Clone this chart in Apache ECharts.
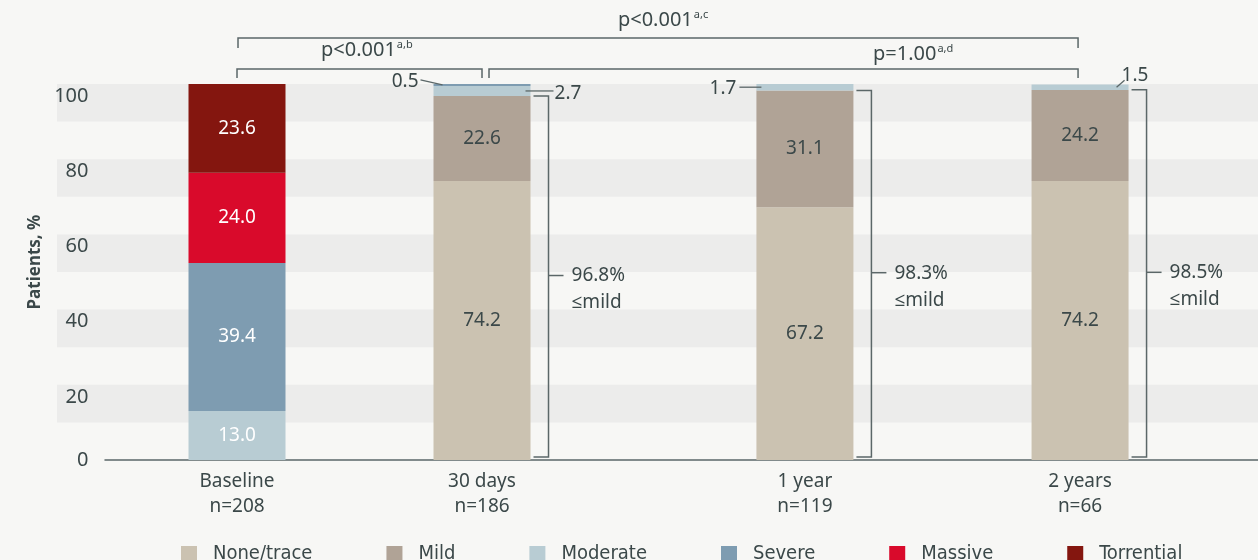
<!DOCTYPE html>
<html>
<head>
<meta charset="utf-8">
<script src="https://cdn.jsdelivr.net/npm/echarts@6/dist/echarts.min.js"></script>
<style>
  html, body { margin: 0; padding: 0; background: #f7f7f5; }
  #chart { width: 1258px; height: 560px; }
</style>
</head>
<body>
<div id="chart"></div>
<script>
// ---- data ----
const categories  = ['Baseline', '30 days', '1 year', '2 years'];
const sampleSizes = ['n=208', 'n=186', 'n=119', 'n=66'];
const grades      = ['None/trace', 'Mild', 'Moderate', 'Severe', 'Massive', 'Torrential'];
const noneTrace   = [0, 74.2, 67.2, 74.2];
const mild        = [0, 22.6, 31.1, 24.2];
const moderate    = [13.0, 2.7, 1.7, 1.5];
const severe      = [39.4, 0.5, 0, 0];
const massive     = [24.0, 0, 0, 0];
const torrential  = [23.6, 0, 0, 0];
const mildOrLess  = [null, 96.8, 98.3, 98.5];
const yTicks      = [0, 20, 40, 60, 80, 100];
const pComparisons = [
  { from: 0, to: 1, text: 'p<0.001', note: 'a,b' },
  { from: 1, to: 3, text: 'p=1.00',  note: 'a,d' },
  { from: 0, to: 3, text: 'p<0.001', note: 'a,c' }
];
// small segments labelled outside their bar: [column, grade]
const smallSegments = [[1, 3], [1, 2], [2, 2], [3, 2]];

// ---- layout & style ----
const COLUMN_SLOTS = [0, 1, 2.318, 3.441];
const X_MIN = -0.5388, X_MAX = 4.1673;
const BAR_W = 97;
const TEXT = '#3b4849';
const LINE = '#5b6768';
const FONT = "'Noto Sans', 'Open Sans', sans-serif";
const NARROW = "'Liberation Sans Narrow', 'DejaVu Sans Condensed', 'Noto Sans', sans-serif";
const gradeColors = ['#cbc2b1', '#b0a396', '#b8ccd3', '#7e9cb1', '#d90a2b', '#84160f'];
const gradeLabelColors = [TEXT, TEXT, '#ffffff', '#ffffff', '#ffffff', '#ffffff'];
const bracketLayout = [
  { rise: 15, tick: 9,  labelAt: 0.53, labelRise: 19, startShift: 0, endShift: 0 },
  { rise: 15, tick: 9,  labelAt: 0.72, labelRise: 15, startShift: 7, endShift: -2 },
  { rise: 46, tick: 10, labelAt: 0.506, labelRise: 18, startShift: 1, endShift: -2 }
];
const calloutLayout = [
  { edge: 'left',  inset: 9,   dx: -22, dy: -5, align: 'right', tx: -2, ty: 2,  va: 'middle' },
  { edge: 'right', inset: 5,   dx: 28,  dy: 0,  align: 'left',  tx: 1,  ty: 3,  va: 'middle' },
  { edge: 'left',  inset: 5,   dx: -22, dy: 0,  align: 'right', tx: -3, ty: 1,  va: 'middle' },
  { edge: 'right', inset: 12,  dx: 8,   dy: -7, align: 'left',  tx: -3, ty: 5,  va: 'bottom' }
];

const stackRows = [noneTrace, mild, moderate, severe, massive, torrential];
function segmentBounds(col, grade) {
  let lo = 0;
  for (let g = 0; g < grade; g++) lo += stackRows[g][col];
  return [lo, lo + stackRows[grade][col]];
}

const chart = echarts.init(document.getElementById('chart'));

// stacked bars: each item is [percent, column slot]
const barSeries = grades.map((name, g) => ({
  name,
  type: 'bar',
  stack: 'total',
  xAxisIndex: 1,
  yAxisIndex: 1,
  barWidth: BAR_W,
  encode: { x: 1, y: 0 },
  itemStyle: { color: gradeColors[g] },
  label: {
    show: true,
    position: 'inside',
    color: gradeLabelColors[g],
    fontFamily: FONT,
    fontSize: 19,
    formatter: p => (p.value[0] >= 5 ? p.value[0].toFixed(1) : '')
  },
  emphasis: { disabled: true },
  data: stackRows[g].map((v, i) => [v, COLUMN_SLOTS[i]])
}));

// "≤mild" brackets on the right of each follow-up bar
const mildBracketSeries = {
  type: 'custom',
  xAxisIndex: 1,
  yAxisIndex: 1,
  z: 5,
  silent: true,
  data: mildOrLess.map((v, i) => [COLUMN_SLOTS[i], v]).filter(d => d[1] != null),
  renderItem(params, api) {
    const x = api.value(0), v = api.value(1);
    const top = api.coord([x, v]);
    const base = api.coord([x, 0]);
    const x0 = top[0] + BAR_W / 2 + 3, x1 = x0 + 15;
    const yTop = top[1], yBot = base[1] - 3, yMid = (yTop + yBot) / 2 - 1;
    return {
      type: 'group',
      children: [
        { type: 'polyline', shape: { points: [[x0, yTop], [x1, yTop], [x1, yBot], [x0, yBot]] },
          style: { stroke: LINE, lineWidth: 1.5, fill: null } },
        { type: 'line', shape: { x1: x1, y1: yMid, x2: x1 + 15, y2: yMid },
          style: { stroke: LINE, lineWidth: 1.5 } },
        { type: 'text', x: x1 + 23, y: yMid - 13,
          style: { text: v.toFixed(1) + '%\n≤mild', fill: TEXT, font: '19px ' + FONT,
                   lineHeight: 27, align: 'left', verticalAlign: 'top' } }
      ]
    };
  }
};

// values of thin segments, written beside the bar with a leader line
const calloutSeries = {
  type: 'custom',
  xAxisIndex: 1,
  yAxisIndex: 1,
  z: 6,
  silent: true,
  data: smallSegments.map(([c, g]) => {
    const [lo, hi] = segmentBounds(c, g);
    return [COLUMN_SLOTS[c], lo, hi, stackRows[g][c]];
  }),
  renderItem(params, api) {
    const L = calloutLayout[params.dataIndex];
    const x = api.value(0);
    const mid = api.coord([x, (api.value(1) + api.value(2)) / 2]);
    const sx = L.edge === 'left' ? mid[0] - BAR_W / 2 + L.inset : mid[0] + BAR_W / 2 - L.inset;
    const sy = mid[1];
    const ex = sx + L.dx, ey = sy + L.dy;
    return {
      type: 'group',
      children: [
        { type: 'line', shape: { x1: sx, y1: sy, x2: ex, y2: ey },
          style: { stroke: LINE, lineWidth: 1.3 } },
        { type: 'text', x: ex + L.tx, y: ey + L.ty,
          style: { text: api.value(3).toFixed(1), fill: TEXT, font: '19px ' + FONT,
                   align: L.align, verticalAlign: L.va } }
      ]
    };
  }
};

// significance brackets above the bars
const pSeries = {
  type: 'custom',
  xAxisIndex: 1,
  yAxisIndex: 1,
  z: 6,
  silent: true,
  data: pComparisons.map(c => [COLUMN_SLOTS[c.from], COLUMN_SLOTS[c.to]]),
  renderItem(params, api) {
    const C = pComparisons[params.dataIndex];
    const L = bracketLayout[params.dataIndex];
    const a = api.coord([api.value(0), 100]);
    const b = api.coord([api.value(1), 100]);
    const xa = a[0] + L.startShift, xb = b[0] + L.endShift;
    const y = a[1] - L.rise;
    const lx = xa + (xb - xa) * L.labelAt;
    return {
      type: 'group',
      children: [
        { type: 'polyline', shape: { points: [[xa, y + L.tick], [xa, y], [xb, y], [xb, y + L.tick]] },
          style: { stroke: LINE, lineWidth: 1.5, fill: null } },
        { type: 'text', x: lx, y: y - L.labelRise,
          style: {
            text: '{p|' + C.text + '}{s|' + C.note + '}',
            align: 'center', verticalAlign: 'middle',
            rich: {
              p: { fontFamily: FONT, fontSize: 20, fill: TEXT, color: TEXT, lineHeight: 22 },
              s: { fontFamily: FONT, fontSize: 11, fill: TEXT, color: TEXT, verticalAlign: 'top', lineHeight: 22, padding: [0, 0, 8, 1] }
            }
          } }
      ]
    };
  }
};

const option = {
  backgroundColor: '#f7f7f5',
  animation: false,
  textStyle: { fontFamily: FONT },
  legend: {
    data: grades,
    left: 176,
    top: 539,
    icon: 'rect',
    itemWidth: 16,
    itemHeight: 16,
    itemGap: 74,
    selectedMode: false,
    textStyle: { fontFamily: NARROW, fontSize: 20, color: TEXT, padding: [0, 0, 0, 11] }
  },
  grid: [
    { left: 57, right: 0, top: 84, bottom: 100 },
    { left: 105, right: 0, top: 84, bottom: 100 }
  ],
  xAxis: [
    { gridIndex: 0, type: 'value', min: 0, max: 1, show: false },
    {
      gridIndex: 1, type: 'value', min: X_MIN, max: X_MAX,
      axisLine: { show: true, onZero: false, lineStyle: { color: LINE, width: 1.5 } },
      axisTick: { show: false },
      splitLine: { show: false },
      axisLabel: {
        customValues: COLUMN_SLOTS,
        margin: 9,
        color: TEXT,
        fontFamily: FONT,
        fontSize: 19,
        lineHeight: 25,
        formatter: v => {
          const i = COLUMN_SLOTS.findIndex(s => Math.abs(s - v) < 1e-6);
          return i < 0 ? '' : categories[i] + '\n' + sampleSizes[i];
        }
      }
    }
  ],
  yAxis: [
    {
      gridIndex: 0, type: 'value', min: 0, max: 100, interval: 10,
      name: 'Patients, %',
      nameLocation: 'middle',
      nameRotate: 90,
      nameGap: 10,
      nameTextStyle: { color: TEXT, fontFamily: FONT, fontSize: 17, fontWeight: 'bold', padding: [0, 0, 0, 20] },
      axisLine: { show: false },
      axisTick: { show: false },
      splitLine: { show: false },
      splitArea: { show: true, areaStyle: { color: ['rgba(0,0,0,0)', '#ececeb'] } },
      axisLabel: {
        margin: -31.5,
        color: TEXT,
        fontFamily: FONT,
        fontSize: 20,
        formatter: v => (yTicks.includes(v) ? (v === 0 ? '{z|0}' : '{n|' + v + '}') : ''),
        rich: {
          z: { fontSize: 20, color: TEXT, fontFamily: FONT },
          n: { fontSize: 20, color: TEXT, fontFamily: FONT, padding: [24, 0, 0, 0] }
        }
      }
    },
    { gridIndex: 1, type: 'value', min: 0, max: 100, show: false }
  ],
  series: [...barSeries, mildBracketSeries, calloutSeries, pSeries]
};

chart.setOption(option);
</script>
</body>
</html>
